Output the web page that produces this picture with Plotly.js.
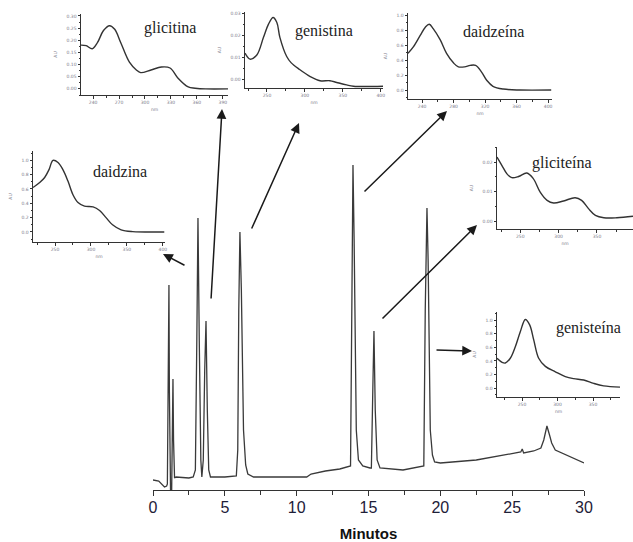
<!DOCTYPE html>
<html>
<head>
<meta charset="utf-8">
<script src="https://cdn.plot.ly/plotly-3.0.1.min.js"></script>
<style>html,body{margin:0;padding:0;background:#fff;}#chart{width:633px;height:542px;}</style>
</head>
<body>
<div id="chart"></div>
<script>
// ---- Main chromatogram (time in minutes, detector response in relative units) ----
const mainTime = [0, 0.4, 0.8, 0.95, 1.0, 1.05, 1.08, 1.11, 1.14, 1.17, 1.22, 1.30, 1.35, 1.39, 1.43, 1.5,
  1.6, 2.5, 2.8, 2.95, 3.05, 3.13, 3.22, 3.33, 3.40, 3.5, 3.6, 3.69, 3.78, 3.88, 4.0,
  5.0, 5.8, 5.9, 5.97, 6.05, 6.15, 6.3, 6.45, 6.6, 7.0,
  9.0, 10.7, 11.0, 12.0, 13.0, 13.75, 13.85, 13.92, 14.0, 14.15, 14.3, 14.6, 15.1, 15.2, 15.3, 15.38, 15.47, 15.6, 15.8,
  17.4, 18.85, 18.95, 19.07, 19.15, 19.3, 19.45, 19.6, 20.0,
  22.5, 25.0, 25.6, 25.7, 25.8, 26.5, 27.0, 27.2, 27.42, 27.6, 27.75, 28.0, 28.3, 29.0, 30.0];
const mainSignal = [10, 9, 3, 4, 6, 80, 150, 205, 100, 0, 0, 0, 80, 111, 50, 12,
  13, 12, 13, 20, 150, 272, 150, 30, 13, 30, 120, 169, 80, 20, 13,
  13, 14, 40, 180, 258, 200, 60, 25, 16, 13,
  13, 13, 16, 19, 21, 24, 200, 325, 250, 60, 30, 24, 22, 22, 100, 159, 80, 30, 22,
  20, 24, 180, 282, 230, 60, 35, 28, 27,
  30, 37, 38, 41, 37, 39, 42, 50, 64, 55, 47, 40, 38, 33, 27];
const mainTicks = [0, 5, 10, 15, 20, 25, 30];

// ---- UV spectra (wavelength nm, absorbance AU) ----
const glicitinaNm = [226, 232, 239, 245, 252, 259, 265, 272, 282, 290, 295, 307, 319, 329, 338, 350, 358, 370, 396];
const glicitinaAU = [0.18, 0.178, 0.165, 0.19, 0.24, 0.26, 0.245, 0.19, 0.11, 0.078, 0.067, 0.078, 0.09, 0.086, 0.045, 0.008, 0.003, 0.0, 0.0];

const genistinaNm = [221, 227.6, 236.6, 245.4, 252, 258, 263, 267, 276, 282, 293, 307, 320, 333, 342, 355, 364, 403];
const genistinaAU = [0.0118, 0.0091, 0.011, 0.019, 0.025, 0.028, 0.0257, 0.019, 0.0103, 0.0074, 0.0044, 0.0012, -0.0007, -0.0007, -0.0015, -0.0026, -0.0032, -0.0032];

const daidzeinaNm = [222, 229, 237.5, 244, 249, 254, 263, 271, 280, 286, 294, 301, 308, 315.5, 322, 330, 343, 364, 404];
const daidzeinaAU = [0.49, 0.58, 0.73, 0.84, 0.88, 0.82, 0.67, 0.49, 0.36, 0.31, 0.31, 0.33, 0.33, 0.24, 0.13, 0.05, 0.013, 0.0, 0.0];

const daidzinaNm = [219.4, 228.7, 235.6, 241.7, 247.2, 254.2, 261, 268, 275, 282, 291, 303, 312, 321, 330, 342, 358, 402];
const daidzinaAU = [0.62, 0.69, 0.76, 0.87, 1.0, 0.97, 0.87, 0.71, 0.52, 0.41, 0.36, 0.35, 0.30, 0.20, 0.10, 0.03, 0.005, 0.0];

const gliciteinaNm = [219.7, 226, 232.7, 239, 247.8, 258.6, 267, 276, 285, 293.5, 306.5, 321.6, 330, 339, 348, 359, 376, 397];
const gliciteinaAU = [0.0217, 0.0189, 0.016, 0.0147, 0.0151, 0.0163, 0.0144, 0.0098, 0.0070, 0.0061, 0.0068, 0.0079, 0.0070, 0.0042, 0.0019, 0.0011, 0.0011, 0.0016];

const genisteinaNm = [214.8, 222, 226.5, 233.5, 240.6, 247.6, 254.7, 260.8, 266.5, 273.5, 282.9, 297, 311, 322.8, 336.9, 351, 365, 388];
const genisteinaAU = [0.44, 0.38, 0.37, 0.44, 0.61, 0.83, 1.01, 0.93, 0.71, 0.44, 0.32, 0.24, 0.17, 0.14, 0.12, 0.07, 0.034, 0.015];

const insetNames = ['glicitina', 'genistina', 'daidzeína', 'daidzina', 'gliciteína', 'genisteína'];

// ---- layout helpers (pixel -> paper) ----
const W = 633, H = 542;
const px = v => v / W;
const py = v => 1 - v / H;

const data = [{
  x: mainTime, y: mainSignal, type: 'scatter', mode: 'lines',
  line: {color: '#3a3a3a', width: 1.3}, xaxis: 'x', yaxis: 'y', hoverinfo: 'skip'
}];

const spectra = [
  [glicitinaNm, glicitinaAU], [genistinaNm, genistinaAU], [daidzeinaNm, daidzeinaAU],
  [daidzinaNm, daidzinaAU], [gliciteinaNm, gliciteinaAU], [genisteinaNm, genisteinaAU]
];

// inset frames: [xLeft, xRight, yBottom, yTop] in pixels, x range, y range, ticks
const insets = [
  {box: [81, 228, 95, 14], xr: [226, 396], yr: [-0.025, 0.308], xt: [240, 270, 300, 330, 360, 390], xm: 15, yt: [0, 0.05, 0.10, 0.15, 0.20, 0.25, 0.30], ym: 0.025, yf: '.2f', title: [170, 28]},
  {box: [245, 383, 88, 12], xr: [221, 403], yr: [-0.004, 0.0305], xt: [250, 300, 350, 400], xm: 25, yt: [0, 0.01, 0.02, 0.03], ym: 0.005, yf: '.2f', title: [324, 31]},
  {box: [408, 552, 99, 13], xr: [222, 405], yr: [-0.12, 1.03], xt: [240, 280, 320, 360, 400], xm: 20, yt: [0, 0.2, 0.4, 0.6, 0.8, 1.0], ym: 0.1, yf: '.1f', title: [493, 32]},
  {box: [33, 165, 242, 151], xr: [219.4, 403], yr: [-0.14, 1.13], xt: [250, 300, 350, 400], xm: 25, yt: [0, 0.2, 0.4, 0.6, 0.8, 1.0], ym: 0.1, yf: '.1f', title: [120, 172]},
  {box: [497, 633, 229, 147], xr: [219.7, 397], yr: [-0.0027, 0.0251], xt: [250, 300, 350], xm: 25, yt: [0, 0.01, 0.02], ym: 0.005, yf: '.2f', title: [562, 163]},
  {box: [497, 620, 397, 312], xr: [214.8, 388], yr: [-0.13, 1.12], xt: [250, 300, 350], xm: 25, yt: [0, 0.2, 0.4, 0.6, 0.8, 1.0], ym: 0.1, yf: '.1f', title: [588, 328]}
];

const layout = {
  width: W, height: H,
  margin: {l: 0, r: 0, t: 0, b: 0},
  paper_bgcolor: '#fff', plot_bgcolor: 'rgba(0,0,0,0)',
  showlegend: false,
  xaxis: {
    domain: [px(153), px(584)], range: [0, 30], anchor: 'y',
    showline: true, linecolor: '#333', linewidth: 1,
    ticks: 'outside', ticklen: 5, tickwidth: 1, tickcolor: '#333',
    tickvals: mainTicks, ticktext: mainTicks.map(String),
    minor: {dtick: 2.5, ticks: 'outside', ticklen: 4, tickcolor: '#333'},
    showgrid: false, zeroline: false, ticklabelstandoff: -2,
    tickfont: {family: 'Liberation Sans, Arial, sans-serif', size: 16, color: '#1e2038'},
    title: {text: '<b>Minutos</b>', font: {family: 'Liberation Sans, Arial, sans-serif', size: 15, color: '#111'}, standoff: 14}
  },
  yaxis: {
    domain: [py(490), py(150)], range: [0, 340], anchor: 'x',
    visible: false, showgrid: false, zeroline: false
  },
  annotations: []
};

insets.forEach((s, i) => {
  const n = i + 2;
  const [x0, x1, yb, yt] = s.box;
  data.push({
    x: spectra[i][0], y: spectra[i][1], type: 'scatter', mode: 'lines',
    line: {color: '#333', width: 1.4, shape: 'spline', smoothing: 1},
    xaxis: 'x' + n, yaxis: 'y' + n, hoverinfo: 'skip'
  });
  const tf = {family: 'DejaVu Sans, sans-serif', size: 4.5, color: '#7a7a8a'};
  layout['xaxis' + n] = {
    domain: [px(x0), px(x1)], range: s.xr, anchor: 'y' + n,
    showline: true, linecolor: '#333', linewidth: 1,
    ticks: 'outside', ticklen: 2.5, tickcolor: '#333', tickwidth: 1,
    tickvals: s.xt, ticktext: s.xt.map(String),
    minor: {dtick: s.xm, ticks: 'outside', ticklen: 1.5, tickcolor: '#333'},
    showgrid: false, zeroline: false, tickfont: tf,
    title: {text: 'nm', font: tf, standoff: 3}
  };
  layout['yaxis' + n] = {
    domain: [py(yb), py(yt)], range: s.yr, anchor: 'x' + n,
    showline: true, linecolor: '#333', linewidth: 1,
    ticks: 'outside', ticklen: 2.5, tickcolor: '#333', tickwidth: 1,
    tickvals: s.yt, tickformat: s.yf,
    minor: {dtick: s.ym, ticks: 'outside', ticklen: 1.5, tickcolor: '#333'},
    showgrid: false, zeroline: false, tickfont: tf,
    title: {text: 'AU', font: tf, standoff: 8}
  };
  layout.annotations.push({
    xref: 'paper', yref: 'paper', x: px(s.title[0]), y: py(s.title[1]),
    text: insetNames[i], showarrow: false, xanchor: 'center', yanchor: 'middle',
    font: {family: 'Liberation Serif, Times New Roman, serif', size: 16, color: '#222'}
  });
});

// arrows: [headX, headY, tailX, tailY] in pixels
const arrows = [
  [163, 254, 186, 266],
  [222, 109, 211, 300],
  [299, 123, 251, 230],
  [447, 111, 363, 193],
  [477, 225, 381, 320],
  [472, 351, 435, 350]
];
arrows.forEach(a => {
  layout.annotations.push({
    xref: 'paper', yref: 'paper', x: px(a[0]), y: py(a[1]),
    ax: a[2] - a[0], ay: a[3] - a[1], axref: 'pixel', ayref: 'pixel',
    text: '', showarrow: true, arrowhead: 2, arrowsize: 1.3, arrowwidth: 1.5,
    arrowcolor: '#1a1a1a', standoff: 0, startstandoff: 0
  });
});

Plotly.newPlot('chart', data, layout, {staticPlot: true, displayModeBar: false});
</script>
</body>
</html>
